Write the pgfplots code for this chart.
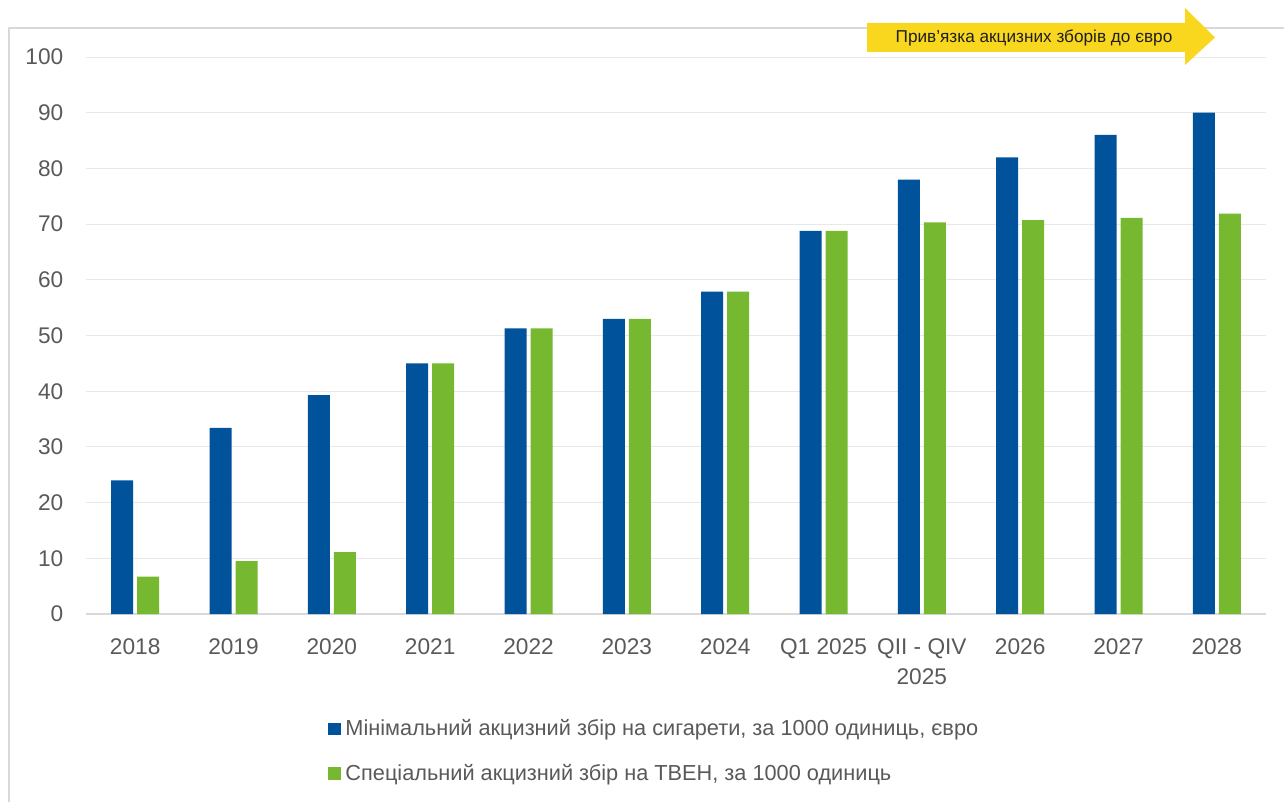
\documentclass[border=0pt]{standalone}
\usepackage{pgfplots}
\pgfplotsset{compat=1.18}
\usepackage{fontspec}
\setmainfont{Liberation Sans}
\definecolor{cblue}{HTML}{00529B}
\definecolor{cgreen}{HTML}{76B82F}
\definecolor{cyellow}{HTML}{F9D71F}
\definecolor{tickgray}{HTML}{595959}
\definecolor{gridgray}{HTML}{E8E8E8}
\definecolor{framegray}{HTML}{D9D9D9}
\begin{document}
\begin{tikzpicture}[x=0.75pt,y=0.75pt]
\path[use as bounding box] (0,0) rectangle (1284,801);
\draw[framegray, line width=1.5pt] (9,773) rectangle (1300,-20);
\begin{axis}[
 at={(64.5pt,140.25pt)}, anchor=south west,
 scale only axis, width=885pt, height=417.75pt,
 xmin=-0.5, xmax=11.5, ymin=0, ymax=100,
 ytick={0,10,...,100},
 xtick={0,...,11},
 xticklabels={2018,2019,2020,2021,2022,2023,2024,Q1 2025,{QII - QIV\\2025},2026,2027,2028},
 ymajorgrids, grid style={gridgray, line width=0.75pt},
 axis x line*=bottom, axis y line*=left,
 x axis line style={framegray, line width=1.5pt, -},
 y axis line style={draw=none},
 major tick length=0,
 tick label style={tickgray, font=\fontsize{17}{22.5}\selectfont},
 xticklabel style={align=center, yshift=-15pt},
 yticklabel style={xshift=-13.5pt},
 /pgf/number format/assume math mode=true,
 ybar, bar width=16.5pt,
 legend style={draw=none, fill=none, at={(0.2016,-0.18)}, anchor=north west,
   legend cell align=left, font=\fontsize{16.3}{19}\selectfont, text=tickgray,
   row sep=16pt, /tikz/every odd column/.append style={column sep=1.5pt}},
 legend image code/.code={\fill[#1] (0pt,-4.8pt) rectangle (9.5pt,4.7pt);},
]
\addplot[fill=cblue, draw=none, bar shift=-9.75pt] coordinates {
 (0,24) (1,33.4) (2,39.3) (3,45) (4,51.3) (5,53) (6,57.9) (7,68.8) (8,78) (9,82) (10,86) (11,90)};
\addplot[fill=cgreen, draw=none, bar shift=9.75pt] coordinates {
 (0,6.7) (1,9.5) (2,11.1) (3,45) (4,51.3) (5,53) (6,57.9) (7,68.8) (8,70.3) (9,70.7) (10,71.1) (11,71.9)};
\legend{{Мінімальний акцизний збір на сигарети, за 1000 одиниць, євро},{Спеціальний акцизний збір на ТВЕН, за 1000 одиниць}}
\end{axis}
\fill[cyellow] (867,778) -- (1185,778) -- (1185,793) -- (1215,763.5) -- (1185,736) -- (1185,749) -- (867,749) -- cycle;
\node[text=black!88, font=\fontsize{12.9}{15}\selectfont] at (1034,763.5) {Прив’язка акцизних зборів до євро};
\end{tikzpicture}
\end{document}
